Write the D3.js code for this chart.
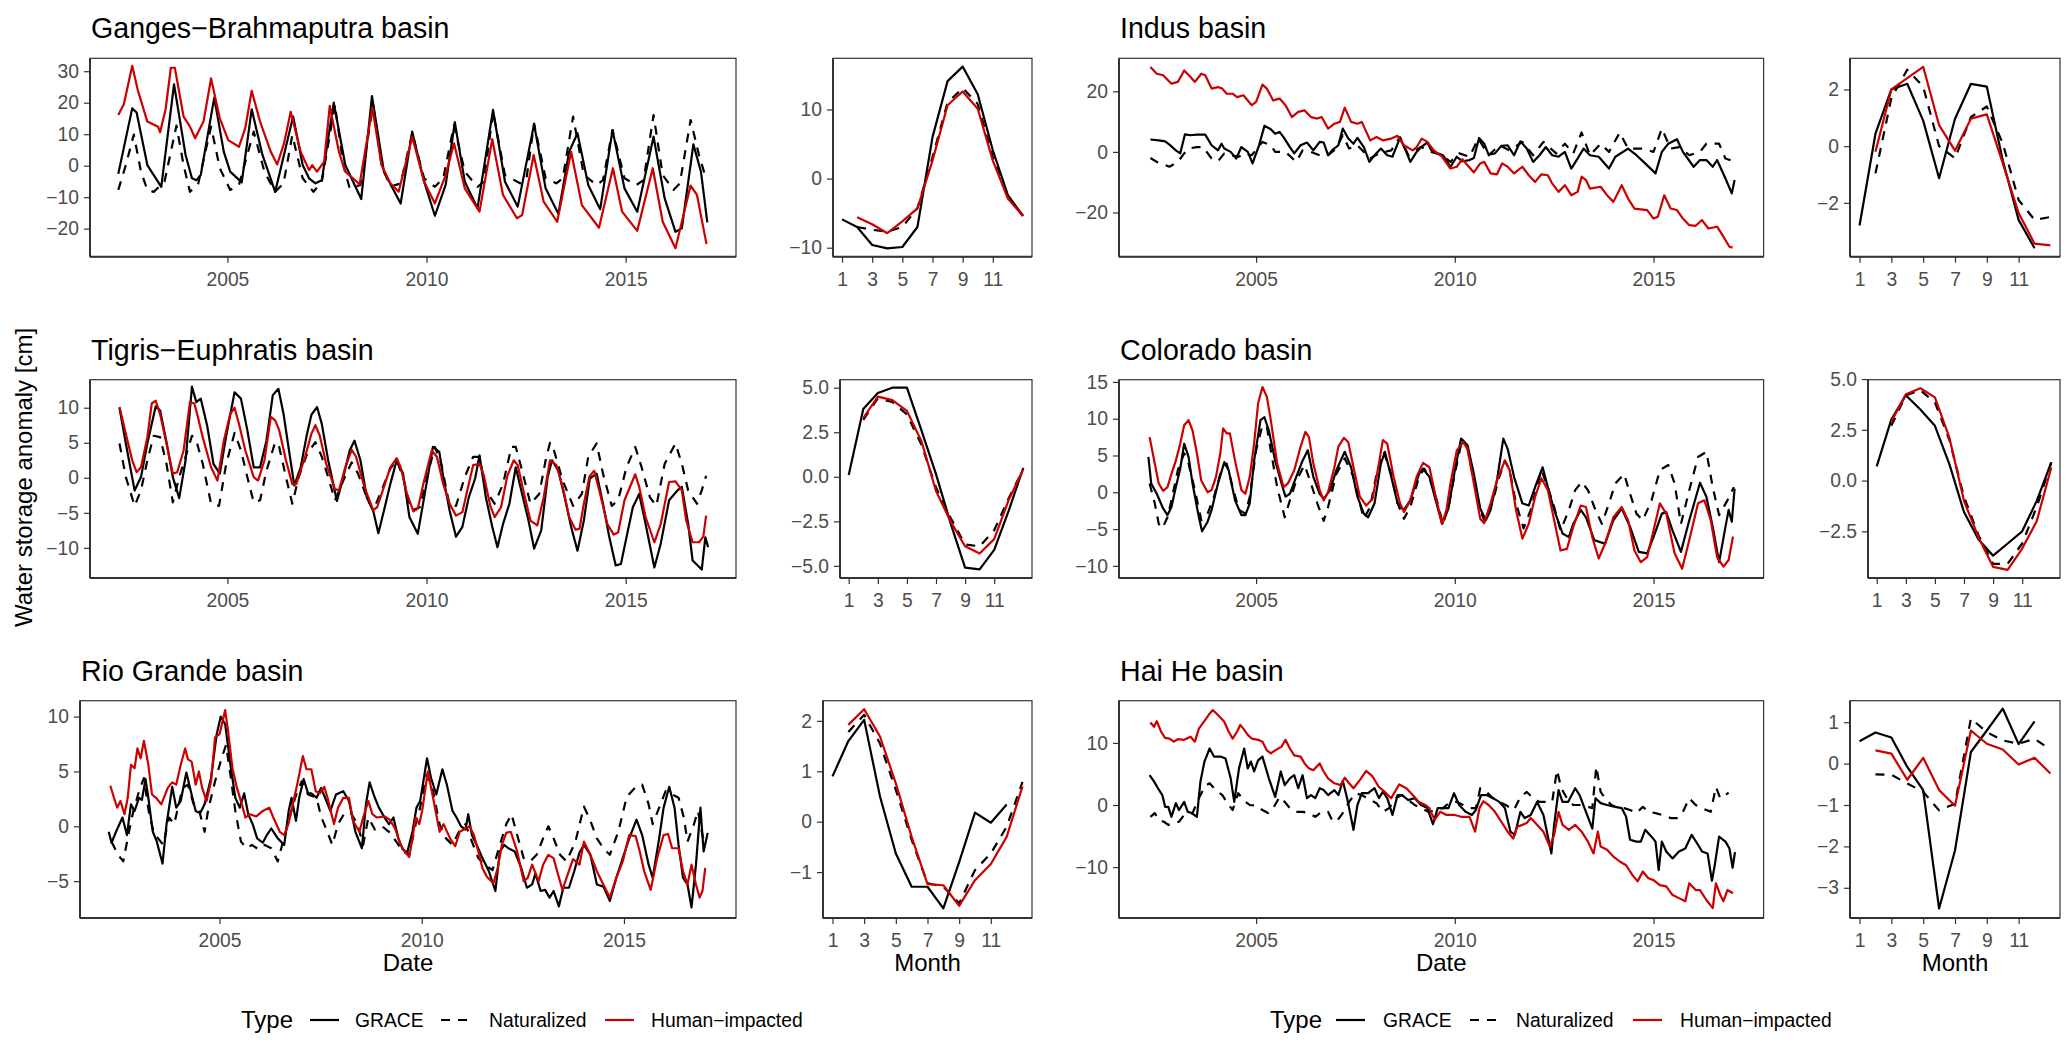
<!DOCTYPE html>
<html><head><meta charset="utf-8">
<script src="https://cdn.jsdelivr.net/npm/d3@7"></script>
<style>body{margin:0;background:#fff} text{font-family:"Liberation Sans",Arial,Helvetica,sans-serif}</style>
</head><body><svg id="chart" width="2067" height="1051"></svg>
<script>
// ---------------- DATA ----------------
const basinNames = ["Ganges\u2212Brahmaputra basin","Indus basin","Tigris\u2212Euphratis basin","Colorado basin","Rio Grande basin","Hai He basin"];
const typeNames = ["GRACE","Naturalized","Human\u2212impacted"];
const dateTicks = [2005, 2010, 2015];
const monthTicks = [1, 3, 5, 7, 9, 11];
const months = [1,2,3,4,5,6,7,8,9,10,11,12,13];

// y tick values per basin: main panel, monthly panel
const mainYTicks = [[-20,-10,0,10,20,30],[-20,0,20],[-10,-5,0,5,10],[-10,-5,0,5,10,15],[-5,0,5,10],[-10,0,10]];
const monthYTicks = [[-10,0,10],[-2,0,2],[-5,-2.5,0,2.5,5],[-2.5,0,2.5,5],[-1,0,1,2],[-3,-2,-1,0,1]];
const mainYDomains = [[-28.9,34.1],[-34.6,30.9],[-14.3,14.0],[-11.65,15.3],[-8.36,11.45],[-18.2,16.8]];
const monthYDomains = [[-11.3,17.4],[-3.9,3.1],[-5.68,5.45],[-4.8,4.97],[-1.91,2.4],[-3.73,1.52]];
const dateDomain = [2001.55, 2017.77];
const monthDomain = [0.4, 13.6];

// --- Ganges-Brahmaputra: [decimal year, cm]
const gangesGrace = [[2002.26,-2.6],[2002.61,18.2],[2002.72,16.9],[2002.99,0.2],[2003.15,-3.0],[2003.34,-6.7],[2003.66,25.8],[2003.95,3.4],[2004.11,-4.0],[2004.22,-4.6],[2004.33,-3.0],[2004.67,21.6],[2004.91,4.4],[2005.07,-1.9],[2005.36,-5.3],[2005.61,17.9],[2005.88,3.4],[2006.20,-8.3],[2006.65,15.6],[2006.89,0.2],[2007.05,-4.0],[2007.21,-5.6],[2007.37,-4.6],[2007.67,20.0],[2007.96,0.2],[2008.36,-10.6],[2008.63,22.1],[2008.93,-1.9],[2009.35,-12.0],[2009.64,10.8],[2009.94,-5.1],[2010.21,-15.9],[2010.48,-6.1],[2010.71,13.8],[2010.96,-5.1],[2011.28,-13.5],[2011.67,17.7],[2011.97,-5.1],[2012.29,-13.0],[2012.70,13.2],[2012.99,-7.2],[2013.31,-15.3],[2013.58,4.4],[2013.79,10.3],[2014.06,-6.1],[2014.36,-13.8],[2014.67,11.3],[2014.97,-7.2],[2015.29,-14.6],[2015.70,9.2],[2015.98,-10.4],[2016.25,-21.0],[2016.41,-19.9],[2016.70,6.8],[2016.89,-1.9],[2017.05,-18.0]];
const gangesNat = [[2002.26,-7.7],[2002.45,0.2],[2002.65,9.9],[2002.83,-1.9],[2002.99,-7.7],[2003.15,-8.3],[2003.42,-5.1],[2003.72,12.7],[2003.90,0.2],[2004.06,-8.3],[2004.27,-5.6],[2004.59,12.4],[2004.81,-0.8],[2005.07,-7.7],[2005.29,-6.1],[2005.66,10.8],[2005.93,-1.9],[2006.20,-8.3],[2006.41,-5.6],[2006.63,9.7],[2006.89,-4.0],[2007.16,-8.3],[2007.37,-5.1],[2007.70,19.3],[2007.91,0.2],[2008.07,-7.2],[2008.34,-6.1],[2008.66,19.3],[2008.87,0.2],[2009.09,-6.7],[2009.35,-5.6],[2009.64,10.3],[2009.94,-4.0],[2010.21,-6.7],[2010.42,-4.0],[2010.69,12.9],[2010.96,-1.9],[2011.28,-6.7],[2011.44,-5.1],[2011.67,17.1],[2011.97,-3.0],[2012.35,-5.6],[2012.51,-4.0],[2012.70,13.4],[2012.99,-4.0],[2013.26,-5.6],[2013.42,-4.0],[2013.68,15.6],[2013.95,-3.0],[2014.27,-6.1],[2014.43,-4.6],[2014.67,11.3],[2014.97,-4.0],[2015.27,-6.1],[2015.45,-4.6],[2015.70,16.1],[2015.93,-3.0],[2016.20,-7.7],[2016.36,-5.6],[2016.63,14.5],[2016.84,3.4],[2017.03,-4.6]];
const gangesHuman = [[2002.26,16.1],[2002.40,19.5],[2002.61,31.7],[2002.75,24.0],[2002.99,14.0],[2003.26,12.4],[2003.31,10.6],[2003.45,18.0],[2003.58,31.1],[2003.68,31.1],[2003.90,15.6],[2004.06,12.4],[2004.19,8.7],[2004.40,14.0],[2004.59,27.7],[2004.81,15.0],[2005.02,8.1],[2005.29,6.0],[2005.45,12.0],[2005.61,23.8],[2005.82,14.0],[2006.09,4.4],[2006.25,0.4],[2006.42,7.0],[2006.59,17.1],[2006.84,4.4],[2007.05,-1.4],[2007.13,0.2],[2007.25,-1.9],[2007.43,1.3],[2007.57,19.0],[2007.80,4.4],[2007.96,-1.9],[2008.32,-5.9],[2008.64,18.4],[2008.87,0.2],[2009.09,-5.6],[2009.30,-8.3],[2009.64,9.2],[2009.94,-5.1],[2010.21,-12.0],[2010.48,-3.0],[2010.69,7.1],[2010.96,-7.2],[2011.33,-14.6],[2011.65,8.4],[2011.92,-9.3],[2012.27,-16.7],[2012.40,-15.7],[2012.69,3.4],[2012.94,-11.4],[2013.28,-17.8],[2013.63,4.4],[2013.90,-12.5],[2014.33,-19.7],[2014.68,-0.8],[2014.91,-14.6],[2015.29,-20.7],[2015.68,-0.8],[2015.93,-17.8],[2016.25,-26.2],[2016.63,-6.3],[2016.79,-9.3],[2017.03,-24.9]];

// --- Indus
const indusGrace = [[2002.34,4.1],[2002.55,3.8],[2002.71,3.5],[2002.82,2.4],[2002.98,0.5],[2003.09,-0.5],[2003.21,5.8],[2003.35,5.5],[2003.51,5.7],[2003.72,5.7],[2003.88,2.2],[2004.04,0.5],[2004.13,2.7],[2004.20,1.1],[2004.36,0.0],[2004.50,-2.2],[2004.63,1.6],[2004.79,0.0],[2004.91,-3.8],[2005.07,2.0],[2005.21,8.6],[2005.37,7.5],[2005.48,6.0],[2005.59,6.6],[2005.69,4.9],[2005.85,1.6],[2005.96,-0.5],[2006.12,2.2],[2006.28,3.1],[2006.44,0.5],[2006.60,3.3],[2006.70,3.1],[2006.81,-1.1],[2006.91,0.5],[2007.07,2.2],[2007.18,7.7],[2007.32,4.4],[2007.45,2.7],[2007.55,4.6],[2007.71,1.6],[2007.85,-3.3],[2007.98,-1.1],[2008.14,1.1],[2008.30,-1.1],[2008.43,-1.6],[2008.62,4.6],[2008.78,0.0],[2008.88,-3.3],[2009.04,0.0],[2009.15,1.6],[2009.31,3.1],[2009.41,0.5],[2009.57,-0.5],[2009.70,-1.1],[2009.89,-4.9],[2010.05,-1.6],[2010.19,-3.1],[2010.37,-2.7],[2010.48,-2.0],[2010.61,4.6],[2010.74,2.7],[2010.85,-0.9],[2011.01,-0.5],[2011.17,2.0],[2011.33,2.2],[2011.49,-1.1],[2011.65,3.5],[2011.81,1.1],[2011.97,-3.3],[2012.13,-1.1],[2012.29,1.6],[2012.45,-1.1],[2012.61,-1.6],[2012.77,0.0],[2012.93,-5.5],[2013.09,-2.2],[2013.24,1.1],[2013.40,-1.1],[2013.62,-1.6],[2013.88,-5.5],[2014.04,-1.6],[2014.36,1.1],[2014.57,-1.1],[2014.79,-3.8],[2015.05,-7.1],[2015.21,0.0],[2015.37,2.7],[2015.59,4.2],[2015.74,0.0],[2016.01,-4.9],[2016.17,-2.7],[2016.33,-2.7],[2016.49,-4.9],[2016.60,-2.7],[2016.81,-8.8],[2016.97,-13.7],[2017.04,-9.3]];
const indusNat = [[2002.34,-2.0],[2002.50,-3.3],[2002.82,-4.9],[2003.03,-3.3],[2003.19,-0.5],[2003.30,1.1],[2003.51,1.6],[2003.67,1.6],[2003.88,-2.2],[2004.04,-3.1],[2004.20,-0.5],[2004.36,-1.1],[2004.57,-1.6],[2004.68,-0.5],[2004.89,-1.1],[2005.16,3.3],[2005.37,2.2],[2005.48,0.0],[2005.74,0.0],[2006.01,-3.3],[2006.17,0.5],[2006.38,0.0],[2006.60,-1.1],[2006.81,-1.1],[2007.02,1.1],[2007.18,5.5],[2007.34,1.1],[2007.55,2.2],[2007.87,-2.2],[2008.09,-0.5],[2008.40,0.5],[2008.62,4.9],[2008.83,-1.1],[2009.15,1.6],[2009.41,0.0],[2009.68,-1.1],[2009.89,-3.3],[2010.11,-0.5],[2010.37,-1.6],[2010.59,4.4],[2010.85,-1.1],[2011.12,2.2],[2011.38,0.5],[2011.70,3.3],[2011.97,-1.1],[2012.23,3.3],[2012.55,-0.5],[2012.77,2.7],[2012.98,-0.5],[2013.19,6.4],[2013.40,-1.1],[2013.67,2.7],[2013.88,0.0],[2014.15,6.4],[2014.36,1.1],[2014.73,1.1],[2015.00,0.0],[2015.21,7.7],[2015.43,1.1],[2015.64,1.6],[2015.90,-1.1],[2016.17,0.0],[2016.33,2.7],[2016.65,2.7],[2016.81,-2.2],[2017.02,-3.1]];
const indusHuman = [[2002.34,28.0],[2002.50,25.8],[2002.66,25.3],[2002.87,22.5],[2003.03,23.1],[2003.19,26.9],[2003.35,24.7],[2003.46,23.1],[2003.62,25.8],[2003.72,25.3],[2003.88,20.9],[2004.04,21.4],[2004.15,20.9],[2004.26,19.2],[2004.41,19.2],[2004.52,18.1],[2004.68,18.7],[2004.89,15.4],[2005.00,16.5],[2005.16,22.2],[2005.27,20.9],[2005.43,17.0],[2005.59,17.6],[2005.74,15.4],[2005.90,11.5],[2006.06,13.2],[2006.22,13.7],[2006.38,11.5],[2006.54,11.0],[2006.65,11.5],[2006.81,7.7],[2006.97,9.3],[2007.11,9.9],[2007.23,14.6],[2007.39,9.9],[2007.55,9.3],[2007.66,9.9],[2007.87,3.8],[2008.03,4.9],[2008.19,3.8],[2008.40,4.4],[2008.56,5.3],[2008.72,2.2],[2008.94,0.5],[2009.04,1.6],[2009.17,4.4],[2009.31,3.3],[2009.47,0.5],[2009.68,-1.6],[2009.89,-5.5],[2010.05,-4.9],[2010.19,-2.4],[2010.32,-4.4],[2010.48,-6.8],[2010.64,-3.8],[2010.74,-3.3],[2010.90,-7.1],[2011.06,-7.4],[2011.19,-3.8],[2011.33,-4.9],[2011.49,-7.1],[2011.70,-4.9],[2011.86,-7.7],[2012.02,-9.9],[2012.18,-7.4],[2012.34,-7.7],[2012.45,-10.4],[2012.61,-13.2],[2012.77,-11.0],[2012.93,-14.3],[2013.09,-13.2],[2013.19,-8.2],[2013.30,-9.3],[2013.40,-12.1],[2013.67,-11.5],[2013.83,-14.3],[2013.99,-16.5],[2014.20,-11.0],[2014.36,-15.4],[2014.52,-18.7],[2014.84,-19.2],[2015.00,-22.0],[2015.11,-21.4],[2015.27,-14.3],[2015.43,-18.7],[2015.59,-19.2],[2015.74,-22.0],[2015.90,-24.2],[2016.06,-24.4],[2016.22,-22.5],[2016.38,-25.3],[2016.60,-24.7],[2016.76,-28.0],[2016.91,-31.3],[2016.99,-31.6]];

// --- Tigris-Euphrates
const tigrisGrace = [[2002.29,10.0],[2002.45,4.9],[2002.67,-1.8],[2002.83,0.1],[2002.99,4.9],[2003.20,10.2],[2003.31,9.6],[2003.47,5.1],[2003.63,0.1],[2003.79,-2.9],[2003.95,2.5],[2004.11,13.0],[2004.22,10.8],[2004.33,11.3],[2004.49,7.5],[2004.65,2.0],[2004.81,0.6],[2004.97,6.0],[2005.18,12.2],[2005.34,11.3],[2005.50,6.8],[2005.66,1.5],[2005.82,1.5],[2005.98,5.3],[2006.14,11.8],[2006.28,12.7],[2006.41,9.1],[2006.52,4.9],[2006.68,-1.1],[2006.84,1.5],[2007.00,6.3],[2007.11,9.0],[2007.25,10.1],[2007.37,7.7],[2007.53,2.5],[2007.75,-3.3],[2007.91,0.1],[2008.07,3.9],[2008.19,5.3],[2008.34,2.5],[2008.50,-2.8],[2008.66,-4.7],[2008.79,-7.9],[2008.93,-4.7],[2009.09,-0.9],[2009.25,2.5],[2009.41,0.6],[2009.57,-5.6],[2009.78,-8.0],[2009.94,-2.8],[2010.16,4.4],[2010.32,3.7],[2010.42,0.1],[2010.58,-4.7],[2010.74,-8.4],[2010.90,-7.0],[2011.06,-2.8],[2011.22,-0.1],[2011.33,3.2],[2011.49,-2.8],[2011.65,-7.0],[2011.78,-9.9],[2011.92,-6.6],[2012.08,-3.7],[2012.24,1.5],[2012.40,-2.3],[2012.56,-6.1],[2012.70,-10.1],[2012.88,-7.5],[2013.04,0.1],[2013.15,2.5],[2013.31,1.0],[2013.47,-2.8],[2013.63,-7.0],[2013.79,-10.4],[2013.95,-6.1],[2014.10,-0.1],[2014.27,0.6],[2014.43,-3.7],[2014.59,-8.5],[2014.75,-12.5],[2014.88,-12.3],[2015.02,-8.5],[2015.18,-4.2],[2015.34,-2.3],[2015.50,-6.6],[2015.72,-12.8],[2015.88,-9.4],[2016.09,-3.2],[2016.30,-1.8],[2016.41,-1.3],[2016.57,-6.6],[2016.68,-11.8],[2016.91,-13.1],[2017.00,-8.5],[2017.07,-9.9]];
const tigrisNat = [[2002.29,4.9],[2002.45,0.1],[2002.67,-4.0],[2002.83,-1.8],[2002.99,2.5],[2003.15,6.0],[2003.31,5.8],[2003.47,2.0],[2003.63,-3.5],[2003.79,0.1],[2003.95,3.0],[2004.11,6.0],[2004.22,5.3],[2004.38,2.0],[2004.59,-3.7],[2004.79,-4.0],[2004.97,2.0],[2005.18,6.4],[2005.34,3.9],[2005.50,0.1],[2005.66,-3.5],[2005.82,-3.2],[2005.98,1.0],[2006.20,5.1],[2006.30,4.4],[2006.47,0.1],[2006.63,-3.7],[2006.79,0.1],[2007.00,3.4],[2007.21,5.1],[2007.37,3.0],[2007.53,0.1],[2007.70,-3.2],[2007.91,-0.4],[2008.12,2.2],[2008.28,0.6],[2008.50,-2.8],[2008.66,-4.7],[2008.87,-1.8],[2009.09,1.3],[2009.25,2.5],[2009.41,0.1],[2009.62,-4.7],[2009.83,-4.2],[2010.05,1.0],[2010.21,4.4],[2010.37,2.0],[2010.58,-4.0],[2010.74,-4.0],[2010.96,0.1],[2011.17,3.0],[2011.33,3.0],[2011.49,-1.8],[2011.71,-3.7],[2011.92,-0.9],[2012.13,4.4],[2012.24,4.4],[2012.40,1.0],[2012.61,-3.7],[2012.83,-2.3],[2012.99,2.5],[2013.10,5.0],[2013.20,3.9],[2013.42,-0.4],[2013.68,-4.0],[2013.90,-2.3],[2014.06,3.0],[2014.27,4.9],[2014.43,0.6],[2014.65,-4.0],[2014.81,-3.2],[2015.02,1.5],[2015.24,4.4],[2015.40,1.5],[2015.61,-2.8],[2015.77,-4.0],[2015.98,2.0],[2016.25,4.9],[2016.41,2.0],[2016.57,-1.8],[2016.79,-3.7],[2016.91,-1.8],[2017.02,0.3]];
const tigrisHuman = [[2002.29,10.1],[2002.45,6.3],[2002.61,2.5],[2002.72,0.8],[2002.83,1.5],[2002.99,5.8],[2003.10,10.6],[2003.20,11.0],[2003.31,9.1],[2003.47,4.9],[2003.63,0.6],[2003.74,0.8],[2003.90,3.9],[2004.06,10.8],[2004.17,10.6],[2004.25,8.9],[2004.38,5.8],[2004.59,1.5],[2004.75,-0.4],[2004.91,5.3],[2005.07,9.1],[2005.18,10.0],[2005.29,7.7],[2005.45,3.9],[2005.66,0.1],[2005.77,-0.4],[2005.93,2.5],[2006.09,8.7],[2006.20,8.2],[2006.30,6.8],[2006.47,2.5],[2006.63,-0.9],[2006.73,-0.9],[2006.95,3.0],[2007.11,6.3],[2007.21,7.5],[2007.32,6.0],[2007.48,2.0],[2007.70,-1.6],[2007.80,-1.8],[2007.96,1.5],[2008.12,4.0],[2008.23,3.0],[2008.44,-1.3],[2008.66,-4.6],[2008.76,-4.2],[2008.93,-1.3],[2009.09,1.5],[2009.25,2.8],[2009.35,1.5],[2009.51,-2.3],[2009.67,-4.8],[2009.78,-4.4],[2009.94,-0.4],[2010.13,3.9],[2010.26,3.0],[2010.42,-0.9],[2010.58,-3.7],[2010.74,-5.4],[2010.90,-4.9],[2011.06,-0.9],[2011.17,1.8],[2011.33,2.0],[2011.44,0.3],[2011.60,-4.0],[2011.71,-5.6],[2011.87,-4.2],[2012.03,0.3],[2012.19,2.5],[2012.29,1.8],[2012.45,-2.3],[2012.61,-6.1],[2012.78,-6.8],[2012.94,-2.8],[2013.10,2.5],[2013.26,1.8],[2013.42,-1.3],[2013.58,-5.6],[2013.74,-7.4],[2013.84,-7.3],[2013.95,-3.7],[2014.09,0.2],[2014.21,1.0],[2014.38,-2.8],[2014.54,-6.6],[2014.70,-8.1],[2014.81,-7.8],[2014.97,-3.2],[2015.24,0.5],[2015.34,-1.3],[2015.50,-5.6],[2015.72,-9.2],[2015.88,-6.6],[2016.09,-0.6],[2016.25,-0.5],[2016.41,-1.8],[2016.52,-6.1],[2016.68,-9.2],[2016.84,-9.2],[2016.95,-8.4],[2017.02,-5.4]];

// --- Colorado
const coloradoGrace = [[2002.29,4.8],[2002.36,1.2],[2002.50,-0.2],[2002.66,-2.2],[2002.77,-3.1],[2002.87,-2.0],[2002.98,0.7],[2003.09,3.2],[2003.19,6.6],[2003.30,4.8],[2003.40,1.2],[2003.56,-3.4],[2003.64,-5.3],[2003.78,-4.0],[2003.88,-2.4],[2004.04,1.2],[2004.20,4.1],[2004.31,3.0],[2004.47,-1.1],[2004.63,-3.1],[2004.73,-3.1],[2004.84,-1.5],[2004.95,4.3],[2005.11,9.8],[2005.21,10.2],[2005.32,8.4],[2005.48,4.3],[2005.64,1.2],[2005.74,-0.6],[2005.85,-0.2],[2006.01,2.1],[2006.17,4.3],[2006.30,5.7],[2006.44,2.1],[2006.60,-0.2],[2006.70,-0.9],[2006.86,0.3],[2007.02,3.0],[2007.23,5.5],[2007.39,3.4],[2007.55,-0.6],[2007.71,-2.9],[2007.82,-3.4],[2007.98,-1.5],[2008.14,3.9],[2008.24,5.5],[2008.40,2.1],[2008.56,-1.5],[2008.72,-2.4],[2008.88,-1.1],[2009.10,2.5],[2009.20,3.2],[2009.36,2.1],[2009.52,-1.1],[2009.68,-4.3],[2009.84,-2.2],[2010.00,3.0],[2010.16,7.3],[2010.32,6.4],[2010.48,2.5],[2010.64,-2.2],[2010.78,-3.8],[2010.90,-2.4],[2011.06,1.6],[2011.22,7.3],[2011.33,5.9],[2011.49,2.1],[2011.70,-1.5],[2011.86,-1.8],[2012.02,0.7],[2012.21,3.4],[2012.34,0.7],[2012.50,-2.4],[2012.71,-5.6],[2012.87,-6.1],[2012.98,-4.3],[2013.17,-2.4],[2013.30,-3.4],[2013.51,-6.5],[2013.78,-7.0],[2013.99,-3.8],[2014.20,-2.2],[2014.41,-4.7],[2014.63,-8.1],[2014.84,-8.3],[2015.00,-6.1],[2015.21,-2.9],[2015.32,-2.7],[2015.48,-5.2],[2015.69,-8.1],[2015.90,-3.8],[2016.17,1.3],[2016.33,-0.6],[2016.49,-4.7],[2016.65,-9.5],[2016.81,-4.7],[2016.89,-2.4],[2016.97,-4.0],[2017.04,0.5]];
const coloradoNat = [[2002.32,1.2],[2002.45,-1.5],[2002.55,-4.3],[2002.64,-4.9],[2002.77,-3.4],[2002.87,-1.1],[2003.03,3.0],[2003.19,5.3],[2003.30,3.9],[2003.46,0.3],[2003.62,-3.8],[2003.78,-2.9],[2003.94,-0.6],[2004.10,2.5],[2004.26,3.9],[2004.41,0.7],[2004.57,-2.4],[2004.73,-2.9],[2004.84,-0.6],[2005.00,5.7],[2005.16,9.1],[2005.27,8.9],[2005.37,5.7],[2005.53,0.7],[2005.72,-3.4],[2005.85,-1.1],[2006.01,1.6],[2006.22,3.7],[2006.38,1.2],[2006.54,-1.5],[2006.70,-3.9],[2006.81,-2.0],[2007.02,2.5],[2007.23,4.6],[2007.45,2.1],[2007.61,-1.5],[2007.71,-3.6],[2007.87,-2.0],[2008.03,2.5],[2008.21,5.5],[2008.40,2.5],[2008.56,-1.5],[2008.72,-3.6],[2008.88,-2.0],[2009.10,2.1],[2009.23,3.2],[2009.36,2.1],[2009.57,-1.5],[2009.70,-4.3],[2009.84,-2.0],[2010.00,2.5],[2010.16,6.6],[2010.32,5.9],[2010.48,1.6],[2010.64,-2.4],[2010.74,-3.8],[2010.96,-1.1],[2011.12,2.1],[2011.26,4.3],[2011.38,3.0],[2011.54,-1.5],[2011.73,-4.9],[2011.91,-2.4],[2012.02,-0.2],[2012.18,3.0],[2012.34,0.7],[2012.50,-2.0],[2012.66,-5.2],[2012.87,-2.4],[2013.03,0.3],[2013.19,1.4],[2013.35,0.3],[2013.51,-2.0],[2013.70,-4.3],[2013.88,-1.5],[2014.04,1.2],[2014.26,2.5],[2014.41,-0.2],[2014.57,-2.9],[2014.73,-3.8],[2014.95,-1.1],[2015.16,3.0],[2015.37,3.7],[2015.53,1.2],[2015.69,-4.3],[2015.90,0.3],[2016.12,4.8],[2016.33,5.5],[2016.49,0.7],[2016.65,-3.1],[2016.86,-1.1],[2017.02,0.7]];
const coloradoHuman = [[2002.32,7.5],[2002.45,3.9],[2002.55,1.2],[2002.66,0.2],[2002.77,0.7],[2002.87,2.5],[2002.98,4.3],[2003.09,6.6],[2003.19,9.1],[2003.30,9.8],[2003.40,8.4],[2003.51,5.3],[2003.62,1.6],[2003.78,0.0],[2003.88,0.3],[2003.99,2.1],[2004.10,5.3],[2004.17,8.7],[2004.26,8.0],[2004.34,8.0],[2004.47,4.3],[2004.63,0.3],[2004.73,-0.2],[2004.84,2.1],[2004.95,6.6],[2005.05,12.1],[2005.16,14.3],[2005.27,13.0],[2005.37,9.8],[2005.53,3.9],[2005.69,0.7],[2005.80,1.2],[2005.96,3.0],[2006.12,6.2],[2006.24,8.2],[2006.33,7.5],[2006.44,3.9],[2006.60,0.3],[2006.70,-1.1],[2006.81,0.0],[2006.97,3.4],[2007.07,6.2],[2007.21,7.4],[2007.32,6.8],[2007.45,3.4],[2007.61,-0.6],[2007.77,-1.8],[2007.93,-0.9],[2008.09,3.9],[2008.19,7.1],[2008.30,6.6],[2008.46,2.1],[2008.62,-1.5],[2008.72,-2.7],[2008.88,-1.1],[2009.04,2.1],[2009.20,4.0],[2009.36,3.4],[2009.52,-0.6],[2009.68,-4.3],[2009.79,-2.4],[2009.89,1.2],[2010.05,5.7],[2010.21,6.8],[2010.32,5.9],[2010.48,1.2],[2010.64,-3.6],[2010.74,-4.2],[2010.90,-1.5],[2011.06,1.6],[2011.26,4.3],[2011.38,3.0],[2011.54,-2.4],[2011.70,-6.3],[2011.86,-4.3],[2012.02,-0.6],[2012.18,1.9],[2012.34,0.3],[2012.50,-3.8],[2012.66,-7.9],[2012.82,-7.7],[2012.98,-4.7],[2013.17,-1.8],[2013.30,-2.0],[2013.46,-6.1],[2013.62,-9.0],[2013.78,-7.0],[2013.99,-3.4],[2014.20,-2.0],[2014.36,-3.8],[2014.52,-7.9],[2014.68,-9.5],[2014.84,-8.8],[2015.00,-5.2],[2015.16,-1.5],[2015.32,-2.9],[2015.53,-8.3],[2015.72,-10.4],[2015.90,-6.5],[2016.12,-1.5],[2016.28,-1.1],[2016.44,-3.8],[2016.60,-8.8],[2016.76,-10.1],[2016.89,-9.2],[2017.00,-6.0]];

// --- Rio Grande
const rioGrace = [[2002.26,-0.5],[2002.33,-1.5],[2002.44,-0.5],[2002.60,0.8],[2002.71,-0.8],[2002.81,2.0],[2002.90,1.4],[2003.01,2.6],[2003.08,2.4],[2003.17,4.3],[2003.24,2.6],[2003.35,-0.5],[2003.45,-1.4],[2003.59,-3.4],[2003.69,0.2],[2003.83,3.6],[2003.93,1.7],[2004.04,2.3],[2004.18,4.9],[2004.29,3.2],[2004.41,1.4],[2004.52,1.2],[2004.63,2.0],[2004.79,4.4],[2004.93,8.4],[2005.03,10.0],[2005.14,9.3],[2005.27,5.6],[2005.39,2.6],[2005.50,1.7],[2005.61,3.0],[2005.71,1.1],[2005.82,0.2],[2005.93,-1.1],[2006.07,-1.5],[2006.17,-0.8],[2006.28,-0.2],[2006.44,-1.1],[2006.60,-1.7],[2006.71,1.4],[2006.78,2.6],[2006.89,0.5],[2006.97,2.6],[2007.08,4.3],[2007.19,3.0],[2007.27,3.0],[2007.40,2.6],[2007.51,3.5],[2007.61,2.6],[2007.74,1.4],[2007.88,2.9],[2008.06,3.2],[2008.20,2.3],[2008.36,-0.5],[2008.52,-2.0],[2008.62,2.0],[2008.71,4.0],[2008.84,2.6],[2008.94,1.7],[2009.08,0.8],[2009.19,0.2],[2009.30,0.8],[2009.42,-1.1],[2009.53,-2.1],[2009.64,-2.4],[2009.77,-0.5],[2009.87,1.7],[2009.96,2.3],[2010.04,4.1],[2010.13,6.2],[2010.23,4.4],[2010.36,2.9],[2010.51,5.2],[2010.62,3.8],[2010.76,1.4],[2010.86,0.8],[2010.97,0.0],[2011.08,-0.3],[2011.15,1.1],[2011.24,-0.8],[2011.36,-1.7],[2011.50,-2.9],[2011.66,-4.1],[2011.82,-5.9],[2011.93,-2.3],[2012.04,-1.7],[2012.14,-2.0],[2012.30,-2.3],[2012.46,-3.8],[2012.60,-5.6],[2012.73,-5.3],[2012.81,-4.3],[2012.94,-5.9],[2013.05,-5.8],[2013.16,-6.5],[2013.26,-5.9],[2013.39,-7.3],[2013.50,-5.6],[2013.64,-5.6],[2013.77,-4.1],[2013.90,-2.4],[2014.01,-1.7],[2014.17,-2.6],[2014.33,-5.3],[2014.49,-5.5],[2014.65,-6.8],[2014.81,-4.7],[2014.97,-2.9],[2015.13,-1.1],[2015.31,0.6],[2015.45,-0.8],[2015.61,-3.5],[2015.71,-4.7],[2015.87,-1.1],[2015.98,1.7],[2016.12,3.6],[2016.25,1.7],[2016.35,-1.7],[2016.46,-4.7],[2016.57,-5.3],[2016.67,-7.4],[2016.78,-3.5],[2016.89,1.7],[2016.97,-2.3],[2017.07,-0.6]];
const rioNat = [[2002.33,-1.4],[2002.49,-2.6],[2002.62,-3.2],[2002.76,-0.5],[2002.87,1.4],[2003.01,3.2],[2003.13,4.4],[2003.26,1.1],[2003.37,-0.5],[2003.48,-1.1],[2003.61,-1.7],[2003.75,0.8],[2003.88,0.2],[2003.99,2.0],[2004.09,3.5],[2004.22,3.8],[2004.36,2.0],[2004.50,1.4],[2004.63,-0.5],[2004.73,1.7],[2004.89,4.1],[2005.05,6.2],[2005.16,7.4],[2005.27,4.7],[2005.39,1.4],[2005.53,-1.4],[2005.67,-2.0],[2005.80,-1.7],[2005.96,-2.1],[2006.12,-1.7],[2006.28,-2.0],[2006.44,-3.2],[2006.57,-1.4],[2006.71,0.5],[2006.87,2.6],[2007.03,4.1],[2007.19,2.9],[2007.40,2.6],[2007.51,0.9],[2007.63,-0.2],[2007.79,-1.7],[2007.93,0.2],[2008.09,1.2],[2008.25,1.2],[2008.41,0.2],[2008.55,-1.7],[2008.68,0.8],[2008.84,-0.3],[2009.02,0.0],[2009.19,-0.5],[2009.37,-1.4],[2009.53,-2.3],[2009.69,-2.6],[2009.85,0.2],[2009.96,1.7],[2010.12,4.7],[2010.28,3.2],[2010.44,0.2],[2010.60,-1.1],[2010.76,-1.7],[2010.92,-0.5],[2011.08,0.2],[2011.24,-1.4],[2011.40,-2.9],[2011.56,-3.5],[2011.75,-4.0],[2011.93,-1.7],[2012.09,0.2],[2012.22,1.1],[2012.36,-0.8],[2012.52,-2.9],[2012.68,-3.2],[2012.84,-2.6],[2013.00,-1.1],[2013.13,0.0],[2013.26,-1.1],[2013.42,-2.6],[2013.58,-3.2],[2013.80,-1.4],[2014.01,1.8],[2014.17,0.5],[2014.33,-1.1],[2014.49,-2.0],[2014.65,-2.6],[2014.86,-0.5],[2015.07,2.7],[2015.27,3.5],[2015.45,3.8],[2015.61,2.0],[2015.71,0.2],[2015.87,1.7],[2016.03,3.2],[2016.19,2.9],[2016.35,2.6],[2016.48,0.8],[2016.57,-1.4],[2016.73,0.2],[2016.83,1.4],[2016.94,-0.8],[2017.01,-1.7]];
const rioHuman = [[2002.30,3.7],[2002.39,2.6],[2002.47,1.7],[2002.55,2.3],[2002.65,1.1],[2002.73,2.6],[2002.81,5.6],[2002.90,5.3],[2002.97,7.1],[2003.05,6.2],[2003.13,7.8],[2003.24,5.6],[2003.33,2.9],[2003.43,2.6],[2003.56,2.0],[2003.72,3.5],[2003.83,4.0],[2003.93,3.8],[2004.04,5.6],[2004.15,7.1],[2004.22,6.1],[2004.31,5.9],[2004.41,3.8],[2004.49,5.0],[2004.57,3.5],[2004.68,2.3],[2004.79,4.1],[2004.89,8.1],[2005.00,8.4],[2005.14,10.6],[2005.21,8.7],[2005.32,5.3],[2005.43,3.5],[2005.53,2.3],[2005.64,0.8],[2005.75,1.1],[2005.91,0.9],[2006.07,1.4],[2006.23,1.7],[2006.33,0.8],[2006.49,-0.5],[2006.60,-0.8],[2006.71,0.3],[2006.81,2.0],[2006.92,3.8],[2007.06,6.4],[2007.15,5.2],[2007.27,5.2],[2007.38,3.2],[2007.48,3.0],[2007.59,3.6],[2007.67,2.6],[2007.83,0.2],[2007.93,1.7],[2008.06,2.6],[2008.20,2.6],[2008.30,0.5],[2008.46,-0.5],[2008.55,0.8],[2008.68,2.3],[2008.78,1.1],[2008.89,0.8],[2009.08,0.9],[2009.21,0.6],[2009.34,-0.2],[2009.48,-1.7],[2009.58,-2.3],[2009.69,-2.8],[2009.77,-1.1],[2009.85,0.8],[2009.94,0.2],[2010.01,1.4],[2010.15,5.0],[2010.28,2.6],[2010.44,-0.5],[2010.54,0.2],[2010.70,-1.1],[2010.83,-1.8],[2010.94,-0.5],[2011.08,-0.2],[2011.18,0.0],[2011.29,-0.8],[2011.40,-2.3],[2011.50,-3.8],[2011.61,-4.6],[2011.77,-5.2],[2011.88,-3.8],[2011.98,-1.7],[2012.09,-0.6],[2012.20,-0.5],[2012.36,-2.3],[2012.52,-5.0],[2012.62,-4.7],[2012.73,-3.5],[2012.89,-5.0],[2013.00,-3.5],[2013.13,-2.6],[2013.26,-2.9],[2013.37,-4.4],[2013.48,-5.8],[2013.58,-4.7],[2013.74,-3.0],[2013.90,-3.5],[2014.01,-1.4],[2014.17,-2.6],[2014.33,-4.1],[2014.49,-5.3],[2014.65,-6.5],[2014.81,-4.7],[2014.97,-3.2],[2015.13,-0.8],[2015.29,-0.9],[2015.39,-2.3],[2015.50,-4.1],[2015.66,-5.8],[2015.82,-2.9],[2015.98,-0.8],[2016.09,-0.7],[2016.19,-2.0],[2016.35,-2.0],[2016.46,-4.1],[2016.57,-5.3],[2016.67,-3.5],[2016.78,-5.3],[2016.87,-6.5],[2016.94,-5.9],[2017.01,-3.8]];

// --- Hai He
const haiheGrace = [[2002.32,4.8],[2002.43,3.8],[2002.53,2.7],[2002.64,1.6],[2002.71,-0.3],[2002.79,-0.3],[2002.87,-1.9],[2002.98,0.3],[2003.06,-0.8],[2003.19,0.5],[2003.28,-1.1],[2003.38,-1.3],[2003.51,-1.9],[2003.60,3.8],[2003.70,7.0],[2003.83,9.1],[2003.94,7.8],[2004.10,7.8],[2004.23,7.5],[2004.36,4.3],[2004.45,0.5],[2004.57,5.9],[2004.70,9.1],[2004.79,5.9],[2004.87,7.0],[2004.95,5.4],[2005.05,7.2],[2005.16,7.8],[2005.32,4.3],[2005.48,1.3],[2005.62,5.4],[2005.72,3.2],[2005.85,4.3],[2005.96,4.8],[2006.06,2.7],[2006.17,4.8],[2006.28,1.1],[2006.38,1.6],[2006.49,1.1],[2006.60,2.7],[2006.70,2.4],[2006.81,1.6],[2006.97,2.4],[2007.07,1.6],[2007.18,3.9],[2007.29,1.1],[2007.45,-4.0],[2007.55,0.0],[2007.66,1.9],[2007.82,1.9],[2007.98,2.7],[2008.09,1.1],[2008.19,2.1],[2008.30,1.1],[2008.43,-1.6],[2008.56,1.6],[2008.67,1.6],[2008.83,0.8],[2008.99,1.1],[2009.15,0.0],[2009.31,-0.5],[2009.45,-3.1],[2009.57,-0.5],[2009.70,-0.5],[2009.84,-0.5],[2009.98,1.9],[2010.11,0.0],[2010.27,-1.1],[2010.43,-1.6],[2010.53,-0.8],[2010.66,1.6],[2010.80,1.6],[2010.96,1.1],[2011.12,0.5],[2011.26,-0.5],[2011.40,-4.3],[2011.51,-4.8],[2011.65,-1.1],[2011.76,-2.1],[2011.91,-1.6],[2012.07,0.5],[2012.23,-1.6],[2012.43,-7.8],[2012.50,-3.2],[2012.61,2.4],[2012.71,0.5],[2012.85,0.5],[2013.03,2.7],[2013.14,1.6],[2013.30,-1.1],[2013.46,-3.8],[2013.54,1.1],[2013.67,0.3],[2013.83,0.0],[2014.04,-0.3],[2014.20,-0.5],[2014.31,-1.9],[2014.41,-5.6],[2014.57,-5.9],[2014.68,-5.9],[2014.79,-4.0],[2014.95,-5.1],[2015.05,-5.9],[2015.13,-10.5],[2015.21,-5.9],[2015.32,-7.5],[2015.48,-8.6],[2015.64,-7.5],[2015.80,-7.0],[2015.96,-4.8],[2016.12,-6.4],[2016.22,-7.5],[2016.36,-7.8],[2016.47,-12.2],[2016.54,-9.7],[2016.65,-5.1],[2016.81,-5.9],[2016.91,-7.0],[2016.99,-10.1],[2017.05,-7.6]];
const haiheNat = [[2002.34,-1.9],[2002.45,-1.3],[2002.55,-2.4],[2002.68,-2.7],[2002.79,-3.2],[2002.93,-2.9],[2003.06,-2.7],[2003.19,-1.6],[2003.40,-1.3],[2003.56,1.1],[2003.72,3.1],[2003.83,3.5],[2003.99,2.4],[2004.15,1.6],[2004.31,0.0],[2004.41,-0.8],[2004.55,1.9],[2004.68,0.8],[2004.84,0.0],[2005.00,-0.1],[2005.16,-0.8],[2005.30,-1.3],[2005.43,-0.5],[2005.59,1.3],[2005.72,0.5],[2005.85,-0.5],[2006.01,-1.1],[2006.17,-1.1],[2006.33,-1.3],[2006.49,-1.9],[2006.65,-1.1],[2006.81,-1.1],[2006.91,-2.4],[2007.02,-2.7],[2007.18,-1.3],[2007.34,0.5],[2007.50,1.9],[2007.66,1.6],[2007.87,0.8],[2008.03,0.3],[2008.19,-1.1],[2008.35,-0.5],[2008.51,1.1],[2008.67,1.6],[2008.83,0.8],[2008.99,0.0],[2009.15,-0.5],[2009.34,-1.1],[2009.52,-0.8],[2009.70,-0.5],[2009.89,0.5],[2010.05,0.5],[2010.21,0.0],[2010.37,-0.5],[2010.53,-0.5],[2010.64,2.7],[2010.80,2.1],[2010.96,1.1],[2011.12,0.5],[2011.28,0.0],[2011.49,-0.8],[2011.65,1.3],[2011.81,2.1],[2011.97,1.1],[2012.13,0.5],[2012.29,0.5],[2012.45,0.5],[2012.57,5.6],[2012.68,2.7],[2012.82,1.1],[2012.98,0.0],[2013.19,0.0],[2013.46,-0.5],[2013.56,6.2],[2013.67,2.1],[2013.78,1.1],[2013.94,0.0],[2014.10,-0.5],[2014.26,-0.5],[2014.41,-0.8],[2014.57,-1.3],[2014.73,-0.3],[2014.89,-1.1],[2015.05,-1.3],[2015.21,-1.6],[2015.43,-2.1],[2015.59,-2.1],[2015.74,-1.1],[2015.90,1.1],[2016.06,0.0],[2016.22,-0.5],[2016.44,-1.1],[2016.57,2.9],[2016.68,1.1],[2016.81,1.6],[2016.89,2.0]];
const haiheHuman = [[2002.34,13.3],[2002.43,12.6],[2002.50,13.5],[2002.61,11.8],[2002.71,10.8],[2002.82,10.7],[2002.93,10.2],[2003.03,10.6],[2003.19,10.5],[2003.35,11.0],[2003.46,10.2],[2003.56,12.3],[2003.72,13.7],[2003.83,14.7],[2003.91,15.3],[2004.04,14.5],[2004.20,13.4],[2004.31,11.8],[2004.41,10.7],[2004.52,11.8],[2004.60,12.9],[2004.68,12.3],[2004.79,11.3],[2004.89,10.7],[2005.05,10.5],[2005.16,10.2],[2005.27,8.8],[2005.37,8.3],[2005.48,8.8],[2005.64,9.4],[2005.74,10.5],[2005.85,9.1],[2005.96,8.0],[2006.12,7.8],[2006.22,6.7],[2006.33,5.9],[2006.44,5.6],[2006.60,6.7],[2006.70,5.4],[2006.81,4.3],[2006.97,3.5],[2007.13,3.2],[2007.23,4.4],[2007.34,3.5],[2007.45,2.7],[2007.61,4.0],[2007.77,5.5],[2007.93,4.6],[2008.09,2.9],[2008.24,2.1],[2008.40,1.1],[2008.60,3.3],[2008.78,2.7],[2008.94,1.6],[2009.10,0.5],[2009.26,0.0],[2009.36,-0.5],[2009.49,-2.4],[2009.63,-1.1],[2009.79,-1.6],[2010.00,-1.6],[2010.16,-1.9],[2010.37,-1.9],[2010.51,-4.3],[2010.62,-0.5],[2010.72,0.6],[2010.85,0.0],[2011.01,-1.1],[2011.17,-2.7],[2011.33,-4.3],[2011.47,-5.4],[2011.57,-3.5],[2011.70,-3.2],[2011.81,-2.9],[2011.91,-2.1],[2012.07,-3.2],[2012.23,-4.3],[2012.39,-6.7],[2012.50,-4.8],[2012.61,-1.1],[2012.71,-3.2],[2012.87,-4.0],[2013.03,-3.2],[2013.19,-4.3],[2013.35,-5.9],[2013.49,-7.8],[2013.60,-4.3],[2013.67,-6.7],[2013.83,-7.2],[2013.99,-8.3],[2014.15,-9.1],[2014.31,-9.7],[2014.47,-11.3],[2014.60,-12.3],[2014.73,-10.7],[2014.87,-11.8],[2015.00,-12.1],[2015.16,-12.9],[2015.32,-13.1],[2015.48,-14.5],[2015.64,-15.0],[2015.80,-15.5],[2015.90,-12.6],[2016.06,-13.7],[2016.17,-13.7],[2016.33,-15.3],[2016.49,-16.6],[2016.57,-12.6],[2016.68,-14.5],[2016.76,-15.5],[2016.86,-13.7],[2017.00,-14.2]];

// --- Mean seasonal cycle, months 1..13 (null = not shown)
const gangesMonthGrace = [-5.9,-7.0,-9.6,-10.1,-9.9,-7.0,6.0,14.1,16.2,12.2,4.1,-2.4,-5.4];
const gangesMonthNat   = [null,-7.0,-7.4,-7.7,-7.0,-4.3,3.1,11.0,13.1,10.8,3.1,-2.6,-5.4];
const gangesMonthHuman = [null,-5.6,-6.6,-7.9,-6.2,-4.3,2.6,10.6,12.6,10.1,2.6,-2.9,-5.4];
const indusMonthGrace = [-2.8,0.44,2.0,2.2,0.9,-1.13,0.97,2.2,2.1,-0.5,-2.6,-3.6,null];
const indusMonthNat   = [null,-0.96,1.7,2.7,2.1,0.0,-0.43,1.03,1.4,0.1,-1.9,-2.6,-2.5];
const indusMonthHuman = [null,-0.2,2.0,2.4,2.8,0.74,-0.16,0.97,1.12,-0.6,-2.36,-3.44,-3.5];
const tigrisMonthGrace = [0.1,3.8,4.7,5.0,5.0,2.6,0.15,-2.6,-5.1,-5.2,-4.1,-1.9,0.5];
const tigrisMonthNat   = [null,3.2,4.4,4.2,3.5,1.8,-0.6,-2.3,-3.8,-3.9,-3.0,-1.2,0.43];
const tigrisMonthHuman = [null,3.3,4.5,4.3,3.7,2.0,-0.8,-2.5,-3.9,-4.3,-3.5,-1.3,0.43];
const coloradoMonthGrace = [0.7,3.0,4.2,3.5,2.7,0.8,-1.55,-2.9,-3.7,-3.1,-2.5,-1.0,0.9];
const coloradoMonthNat   = [null,2.7,4.2,4.45,3.85,2.0,-0.8,-2.7,-4.1,-4.1,-3.1,-1.3,0.9];
const coloradoMonthHuman = [null,2.9,4.25,4.55,4.1,2.1,-1.0,-2.8,-4.25,-4.4,-3.35,-2.0,0.65];
const rioMonthGrace = [0.9,1.6,2.02,0.5,-0.63,-1.29,-1.29,-1.72,-0.8,0.18,-0.02,0.34,null];
const rioMonthNat   = [null,1.78,2.12,1.55,0.63,-0.36,-1.22,-1.29,-1.62,-0.96,-0.63,-0.1,0.79];
const rioMonthHuman = [null,1.92,2.23,1.69,0.76,-0.3,-1.24,-1.26,-1.67,-1.16,-0.84,-0.3,0.7];
const haiheMonthGrace = [0.54,0.75,0.63,-0.08,-0.64,-3.5,-2.1,0.28,0.8,1.33,0.47,1.02,null];
const haiheMonthNat   = [null,-0.26,-0.27,-0.48,-0.68,-1.13,-0.97,1.09,0.76,0.56,0.48,0.6,0.34];
const haiheMonthHuman = [null,0.32,0.24,-0.39,0.14,-0.64,-1.02,0.8,0.48,0.34,-0.02,0.14,-0.24];

const mainSeries = [
  [gangesGrace, gangesNat, gangesHuman],
  [indusGrace, indusNat, indusHuman],
  [tigrisGrace, tigrisNat, tigrisHuman],
  [coloradoGrace, coloradoNat, coloradoHuman],
  [rioGrace, rioNat, rioHuman],
  [haiheGrace, haiheNat, haiheHuman]
];
const monthSeries = [
  [gangesMonthGrace, gangesMonthNat, gangesMonthHuman],
  [indusMonthGrace, indusMonthNat, indusMonthHuman],
  [tigrisMonthGrace, tigrisMonthNat, tigrisMonthHuman],
  [coloradoMonthGrace, coloradoMonthNat, coloradoMonthHuman],
  [rioMonthGrace, rioMonthNat, rioMonthHuman],
  [haiheMonthGrace, haiheMonthNat, haiheMonthHuman]
];

// ---------------- LAYOUT (pixels) ----------------
const rowsY = [[58.3, 256.7], [379.7, 578], [700.7, 918]];
const layout = [
  {row:0, main:[90, 736],   small:[833, 1032]},
  {row:0, main:[1119, 1763.6], small:[1850, 2060]},
  {row:1, main:[90, 736],   small:[840, 1032]},
  {row:1, main:[1119, 1763.6], small:[1868, 2060]},
  {row:2, main:[80, 736],   small:[823, 1032]},
  {row:2, main:[1119, 1763.6], small:[1850, 2060]}
];
const typeStyle = [
  {color:"#000000", dash:null},
  {color:"#000000", dash:"9,8"},
  {color:"#CD0000", dash:null}
];
const legendPos = [
  {title:241, keys:[310, 441, 605], texts:[355, 489, 651]},
  {title:1270, keys:[1336, 1470, 1633], texts:[1383, 1516, 1680]}
];

// ---------------- DRAW ----------------
const svg = d3.select("#chart");
svg.append("rect").attr("width",2067).attr("height",1051).attr("fill","#fff");
const minus = s => String(s).replace(/-/g, "\u2212");
const TICK_FS = 19.3, TITLE_FS = 28.6, AXIS_FS = 24;

function panel(x0, x1, y0, y1, xs, ys, xTicks, yTicks, yFmt, series, accessor) {
  const g = svg.append("g");
  // lines
  series.forEach((data, i) => {
    const line = d3.line()
      .defined(accessor.defined)
      .x(accessor.x(xs)).y(accessor.y(ys));
    g.append("path").datum(accessor.data(data))
      .attr("d", line).attr("fill","none")
      .attr("stroke", typeStyle[i].color)
      .attr("stroke-width", 2.2)
      .attr("stroke-linejoin","round")
      .attr("stroke-dasharray", typeStyle[i].dash);
  });
  // border
  g.append("rect").attr("x",x0).attr("y",y0).attr("width",x1-x0).attr("height",y1-y0)
    .attr("fill","none").attr("stroke","#333").attr("stroke-width",1.2);
  g.append("line").attr("x1",x0).attr("x2",x1).attr("y1",y1).attr("y2",y1).attr("stroke","#333").attr("stroke-width",2);
  g.append("line").attr("x1",x0).attr("x2",x0).attr("y1",y0).attr("y2",y1).attr("stroke","#333").attr("stroke-width",2);
  // x axis
  const xa = d3.axisBottom(xs).tickValues(xTicks).tickSize(6).tickPadding(5).tickFormat(d => d);
  const gx = g.append("g").attr("transform",`translate(0,${y1})`).call(xa);
  const ya = d3.axisLeft(ys).tickValues(yTicks).tickSize(6).tickPadding(5).tickFormat(d => minus(yFmt(d)));
  const gy = g.append("g").attr("transform",`translate(${x0},0)`).call(ya);
  [gx, gy].forEach(a => {
    a.select(".domain").remove();
    a.selectAll(".tick line").attr("stroke","#333").attr("stroke-width",1.2);
    a.selectAll(".tick text").attr("fill","#4D4D4D").attr("font-size",TICK_FS)
      .attr("font-family","Liberation Sans, Arial, sans-serif");
  });
  gx.selectAll(".tick text").attr("dy","0.95em");
}

const dateAcc = {
  defined: d => d[1] != null,
  data: d => d,
  x: xs => d => xs(d[0]),
  y: ys => d => ys(d[1])
};
const monthAcc = {
  defined: d => d.v != null,
  data: arr => arr.map((v, i) => ({m: months[i], v})),
  x: xs => d => xs(d.m),
  y: ys => d => ys(d.v)
};

basinNames.forEach((name, b) => {
  const L = layout[b];
  const [y0, y1] = rowsY[L.row];
  const xs = d3.scaleLinear().domain(dateDomain).range(L.main);
  const ys = d3.scaleLinear().domain(mainYDomains[b]).range([y1, y0]);
  panel(L.main[0], L.main[1], y0, y1, xs, ys, dateTicks, mainYTicks[b], d3.format("d"), mainSeries[b], dateAcc);
  const xm = d3.scaleLinear().domain(monthDomain).range(L.small);
  const ym = d3.scaleLinear().domain(monthYDomains[b]).range([y1, y0]);
  const fmt = (b === 2 || b === 3) ? d3.format(".1f") : d3.format("d");
  panel(L.small[0], L.small[1], y0, y1, xm, ym, monthTicks, monthYTicks[b], fmt, monthSeries[b], monthAcc);
  // title
  svg.append("text").attr("x", L.main[0] + 1).attr("y", y0 - 20)
    .attr("font-size", TITLE_FS).attr("fill","#000").text(name);
});

// axis titles (bottom row)
[4, 5].forEach(b => {
  const L = layout[b];
  svg.append("text").attr("x",(L.main[0]+L.main[1])/2).attr("y",971).attr("text-anchor","middle")
    .attr("font-size",AXIS_FS).text("Date");
  svg.append("text").attr("x",(L.small[0]+L.small[1])/2).attr("y",971).attr("text-anchor","middle")
    .attr("font-size",AXIS_FS).text("Month");
});
svg.append("text").attr("transform","translate(32,477.5) rotate(-90)").attr("text-anchor","middle")
  .attr("font-size",AXIS_FS).text("Water storage anomaly [cm]");

// legends
legendPos.forEach(lp => {
  const y = 1020;
  svg.append("text").attr("x",lp.title).attr("y",y).attr("dy","0.35em").attr("font-size",AXIS_FS).text("Type");
  typeNames.forEach((t, i) => {
    svg.append("line").attr("x1",lp.keys[i]).attr("x2",lp.keys[i]+29).attr("y1",y).attr("y2",y)
      .attr("stroke",typeStyle[i].color).attr("stroke-width",2.2).attr("stroke-dasharray",typeStyle[i].dash);
    svg.append("text").attr("x",lp.texts[i]).attr("y",y).attr("dy","0.35em").attr("font-size",TICK_FS).text(t);
  });
});
</script></body></html>
